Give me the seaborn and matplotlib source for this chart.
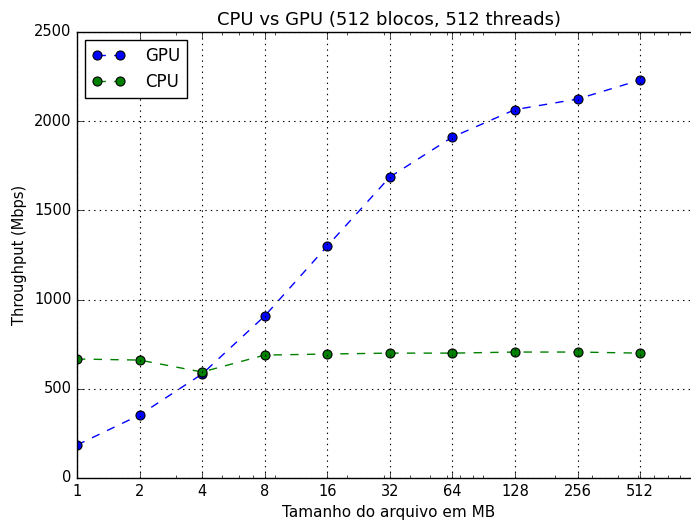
import matplotlib
matplotlib.use("Agg")
import matplotlib.pyplot as plt
import seaborn as sns
import pandas as pd
from matplotlib.ticker import FixedLocator, FixedFormatter, LogLocator, NullFormatter

# --------------------------------------------------
# Data
# --------------------------------------------------

tamanhos = [1, 2, 4, 8, 16, 32, 64, 128, 256, 512]
tick_labels = ["1", "2", "4", "8", "16", "32", "64", "128", "256", "512"]

gpu = [185, 353, 583, 908, 1300, 1687, 1911, 2065, 2124, 2231]
cpu = [667, 661, 594, 689, 695, 700, 700, 706, 706, 700]

df_gpu = pd.DataFrame({"tamanho": tamanhos, "throughput": gpu})
df_cpu = pd.DataFrame({"tamanho": tamanhos, "throughput": cpu})

# --------------------------------------------------
# Style
# --------------------------------------------------

plt.style.use("classic")
plt.rcParams["font.family"] = ["DejaVu Sans"]

fig = plt.figure(figsize=(6.91, 5.2), dpi=100)
fig.patch.set_facecolor("white")
# axes run a bit past the right edge of the figure, like the reference
ax = fig.add_axes([77 / 691, 42 / 520, (700.5 - 77) / 691, (478 - 32) / 520])

sns.lineplot(data=df_gpu, x="tamanho", y="throughput", ax=ax, color="b",
             linestyle="--", linewidth=1, marker="o", markersize=6.5,
             markeredgecolor="k", markeredgewidth=0.8, label="GPU")
sns.lineplot(data=df_cpu, x="tamanho", y="throughput", ax=ax, color="g",
             linestyle="--", linewidth=1, marker="o", markersize=6.5,
             markeredgecolor="k", markeredgewidth=0.8, label="CPU")

ax.set_xscale("log")
ax.set_xlim(1, 1000)
ax.set_ylim(0, 2500)

ax.xaxis.set_major_locator(FixedLocator(tamanhos))
ax.xaxis.set_major_formatter(FixedFormatter(tick_labels))
ax.xaxis.set_minor_locator(LogLocator(base=10, subs=range(2, 10)))
ax.xaxis.set_minor_formatter(NullFormatter())

ax.tick_params(axis="both", which="major", labelsize=10.5, direction="in",
               top=True, right=False, length=4)
ax.tick_params(axis="x", which="minor", direction="in", top=True, length=2)

ax.spines["right"].set_visible(False)

ax.grid(True, which="major", linestyle=":", color="k", linewidth=0.8)

ax.set_title("CPU vs GPU (512 blocos, 512 threads)", fontsize=13)
ax.set_xlabel("Tamanho do arquivo em MB", fontsize=11)
ax.set_ylabel("Throughput (Mbps)", fontsize=10.5)

ax.legend(loc="upper left", numpoints=2, fontsize=12, fancybox=False,
          frameon=True, edgecolor="k", handletextpad=1.2)

fig.savefig("out.png", dpi=100, facecolor="white")
